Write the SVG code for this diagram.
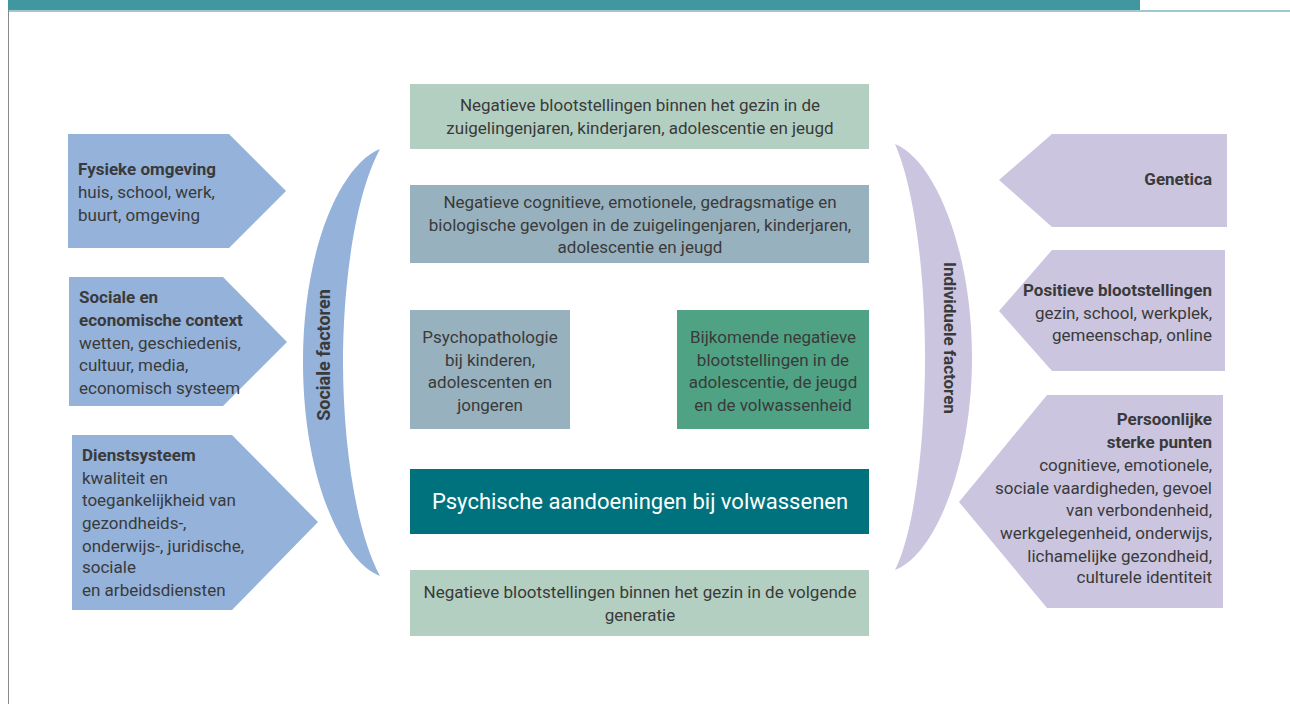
<svg xmlns="http://www.w3.org/2000/svg" width="1290" height="704" viewBox="0 0 1290 704">
<style>
text{font-family:Roboto,"Liberation Sans",sans-serif;font-size:17px;fill:#3a3a3a}
.b{font-weight:bold}
.c{text-anchor:middle}
.r{text-anchor:end}
.lb{fill:#94b2da}
.lv{fill:#cbc5e0}
.g1{fill:#b3cfc2}
.g2{fill:#98b1be}
.g3{fill:#4fa384}
.g4{fill:#00727e}
</style>
<rect width="1290" height="704" fill="#fff"/>
<rect x="8" y="0" width="1132" height="10" fill="#40979f"/>
<rect x="8" y="10" width="1282" height="2" fill="#9fc9cc"/>
<line x1="8.5" y1="10" x2="8.5" y2="704" stroke="#8a8a8a" stroke-width="1"/>
<g id="connectors"></g>
<g id="fysieke">
<polygon class="lb" points="68,134 229,134 286,191 229,248 68,248"/>
<text x="78" y="175" class="b">Fysieke omgeving</text>
<text x="78" y="198">huis, school, werk,</text>
<text x="78" y="221">buurt, omgeving</text>
</g>
<g id="sociale-context">
<polygon class="lb" points="69,277 223,277 287,342 223,406 69,406"/>
<text x="79" y="303" class="b">Sociale en</text>
<text x="79" y="326" class="b">economische context</text>
<text x="79" y="349">wetten, geschiedenis,</text>
<text x="79" y="371">cultuur, media,</text>
<text x="79" y="394">economisch systeem</text>
</g>
<g id="dienstsysteem">
<polygon class="lb" points="72,435 232,435 318,522 232,610 72,610"/>
<text x="82" y="461" class="b">Dienstsysteem</text>
<text x="82" y="484">kwaliteit en</text>
<text x="82" y="506">toegankelijkheid van</text>
<text x="82" y="529">gezondheids-,</text>
<text x="82" y="552">onderwijs-, juridische,</text>
<text x="82" y="573">sociale</text>
<text x="82" y="596">en arbeidsdiensten</text>
</g>
<g id="sociale-factoren">
<path class="lb" d="M380,149 C340,165 303,250 303,362 C303,475 340,560 380,576 C355,530 343,440 343,362 C343,285 355,195 380,149 Z"/>
<text class="b c" style="font-size:18px" transform="translate(330,355) rotate(-90)">Sociale factoren</text>
</g>
<g id="individuele-factoren">
<path class="lv" d="M895,144 C935,160 972,250 972,357 C972,465 935,555 895,570 C915,530 925,440 925,357 C925,275 915,190 895,144 Z"/>
<text class="b c" transform="translate(944,338) rotate(90)">Individuele factoren</text>
</g>
<g id="genetica">
<polygon class="lv" points="1227,134 1052,134 999,180 1052,227 1227,227"/>
<text x="1212" y="185" class="b r">Genetica</text>
</g>
<g id="positieve">
<polygon class="lv" points="1225,250 1052,250 999,311 1052,371 1225,371"/>
<text x="1212" y="296" class="b r">Positieve blootstellingen</text>
<text x="1212" y="319" class="r">gezin, school, werkplek,</text>
<text x="1212" y="341" class="r">gemeenschap, online</text>
</g>
<g id="persoonlijke">
<polygon class="lv" points="1223,395 1047,395 959,502 1047,608 1223,608"/>
<text x="1212" y="425" class="b r">Persoonlijke</text>
<text x="1212" y="448" class="b r">sterke punten</text>
<text x="1212" y="471" class="r">cognitieve, emotionele,</text>
<text x="1212" y="494" class="r">sociale vaardigheden, gevoel</text>
<text x="1212" y="516" class="r">van verbondenheid,</text>
<text x="1212" y="539" class="r">werkgelegenheid, onderwijs,</text>
<text x="1212" y="562" class="r">lichamelijke gezondheid,</text>
<text x="1212" y="583" class="r">culturele identiteit</text>
</g>
<g id="box1">
<rect class="g1" x="410" y="84" width="459" height="65"/>
<text x="640" y="111" class="c">Negatieve blootstellingen binnen het gezin in de</text>
<text x="640" y="134" class="c">zuigelingenjaren, kinderjaren, adolescentie en jeugd</text>
</g>
<g id="box2">
<rect class="g2" x="410" y="185" width="459" height="78"/>
<text x="640" y="208" class="c">Negatieve cognitieve, emotionele, gedragsmatige en</text>
<text x="640" y="231" class="c">biologische gevolgen in de zuigelingenjaren, kinderjaren,</text>
<text x="640" y="253" class="c">adolescentie en jeugd</text>
</g>
<g id="box3">
<rect class="g2" x="410" y="310" width="160" height="119"/>
<text x="490" y="343" class="c">Psychopathologie</text>
<text x="490" y="366" class="c">bij kinderen,</text>
<text x="490" y="388" class="c">adolescenten en</text>
<text x="490" y="411" class="c">jongeren</text>
</g>
<g id="box4">
<rect class="g3" x="677" y="310" width="192" height="119"/>
<text x="773" y="343" class="c">Bijkomende negatieve</text>
<text x="773" y="366" class="c">blootstellingen in de</text>
<text x="773" y="388" class="c">adolescentie, de jeugd</text>
<text x="773" y="411" class="c">en de volwassenheid</text>
</g>
<g id="box5">
<rect class="g4" x="410" y="469" width="459" height="65"/>
<text x="640" y="509" class="c" style="fill:#fff;font-size:22px">Psychische aandoeningen bij volwassenen</text>
</g>
<g id="box6">
<rect class="g1" x="410" y="570" width="459" height="66"/>
<text x="640" y="598" class="c">Negatieve blootstellingen binnen het gezin in de volgende</text>
<text x="640" y="621" class="c">generatie</text>
</g>
</svg>
